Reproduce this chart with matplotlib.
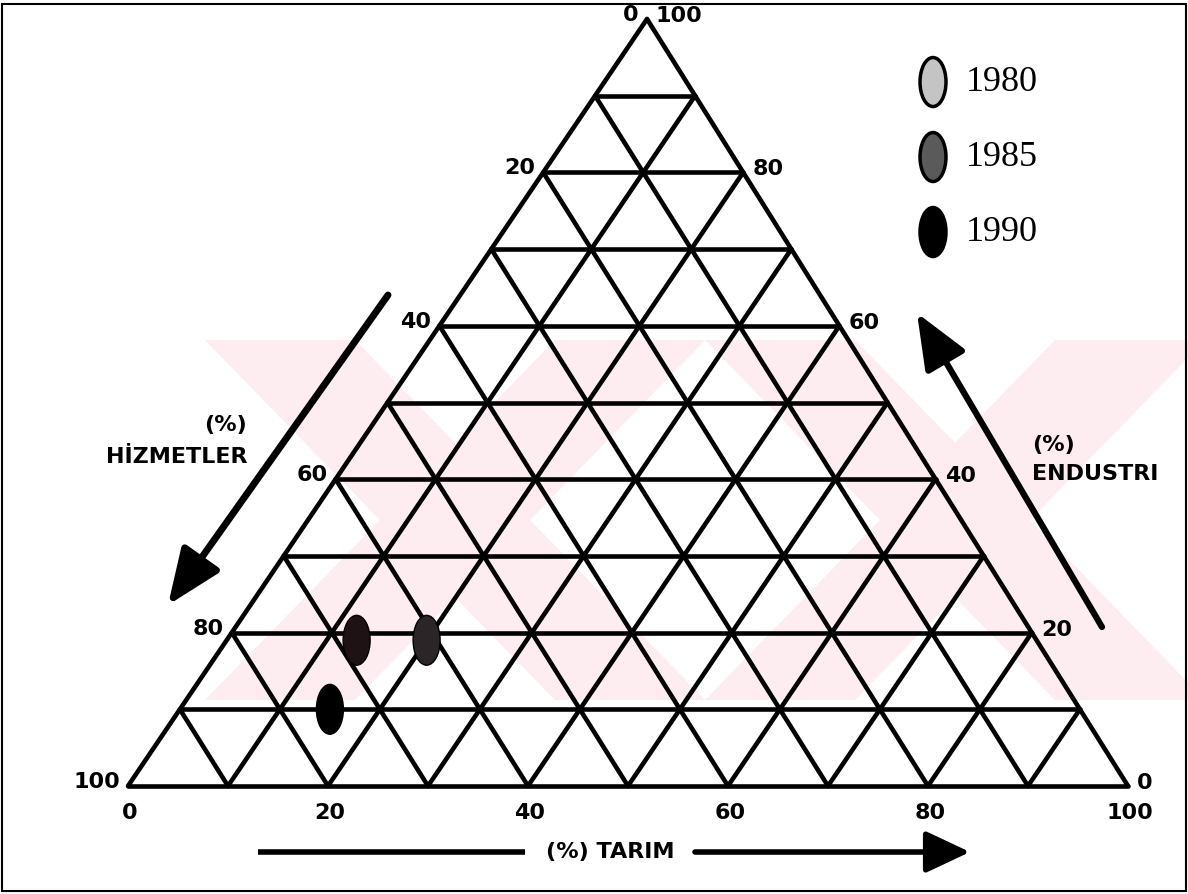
import numpy as np
import matplotlib.pyplot as plt
from matplotlib.patches import Ellipse, Polygon, Rectangle

# yuzde degerleri (tarim, endustri, hizmetler)
years = ['1980', '1985', '1990']
tarim = [20, 13, 15]
endustri = [19, 19, 10]
hizmetler = [61, 68, 75]

tick_values = [0, 20, 40, 60, 80, 100]
grid_steps = list(range(0, 101, 10))

point_colors = ['#2b2527', '#1e1214', '#000000']
legend_colors = ['#c4c4c4', '#5a5a5a', '#000000']

APEX_X = 0.519   # tepe noktasi tam ortada degil


def to_xy(t, i):
    t = np.asarray(t, dtype=float) / 100.0
    i = np.asarray(i, dtype=float) / 100.0
    return t + APEX_X * i, i


def px(x, y):
    # figur pikselinden eksen koordinatina (sadece susleme icin)
    return (x - 128) / 1000.0, (786 - y) / 767.0


fig = plt.figure(figsize=(11.88, 8.94), dpi=100)
ax = fig.add_axes([0, 0, 1, 1])
ax.set_xlim(-0.128, 1.060)
ax.set_ylim(-0.1408, 1.0248)
ax.axis('off')

# soluk pembe filigran
wm = '#fdedf0'
for cx in [455, 955]:
    w = 150
    arm1 = [px(cx - 250, 340), px(cx - 250 + w, 340), px(cx + 250, 700), px(cx + 250 - w, 700)]
    arm2 = [px(cx + 250 - w, 340), px(cx + 250, 340), px(cx - 250 + w, 700), px(cx - 250, 700)]
    for arm in (arm1, arm2):
        ax.add_patch(Polygon(arm, closed=True, facecolor=wm, edgecolor='none', zorder=0))

# ucgen izgara
lw = 3.3
for k in grid_steps:
    if k == 100:
        continue
    x0, y0 = to_xy(0, k)
    x1, y1 = to_xy(100 - k, k)
    ax.plot([x0, x1], [y0, y1], color='black', lw=lw, solid_capstyle='round', zorder=2)
    x0, y0 = to_xy(k, 0)
    x1, y1 = to_xy(k, 100 - k)
    ax.plot([x0, x1], [y0, y1], color='black', lw=lw, solid_capstyle='round', zorder=2)
    x0, y0 = to_xy(100 - k, 0)
    x1, y1 = to_xy(0, 100 - k)
    ax.plot([x0, x1], [y0, y1], color='black', lw=lw, solid_capstyle='round', zorder=2)

lab = dict(fontsize=16, family='DejaVu Sans', fontweight='bold', color='black')

# sol eksen: hizmetler
for v in tick_values:
    x, y = to_xy(0, 100 - v)
    ax.annotate(str(v), (x, y), xytext=(-8, 4), textcoords='offset pixels',
                ha='right', va='center', **lab)
# sag eksen: endustri
for v in tick_values:
    x, y = to_xy(100 - v, v)
    ax.annotate(str(v), (x, y), xytext=(9, 3), textcoords='offset pixels',
                ha='left', va='center', **lab)
# alt eksen: tarim
for v in tick_values:
    x, y = to_xy(v, 0)
    ax.annotate(str(v), (x, y), xytext=(2, -27), textcoords='offset pixels',
                ha='center', va='center', **lab)

# veri noktalari
for yr, t, i, c in zip(years, tarim, endustri, point_colors):
    x, y = to_xy(t, i)
    ax.add_patch(Ellipse((x, y), 0.027, 0.065, facecolor=c, edgecolor='black',
                         lw=1, zorder=4))

# eksen oklari
ax.annotate('', xy=px(168, 605), xytext=px(388, 295),
            arrowprops=dict(arrowstyle='-|>,head_length=0.85,head_width=0.35',
                            lw=5, color='black', mutation_scale=40,
                            shrinkA=0, shrinkB=0))
ax.annotate('', xy=px(917, 313), xytext=px(1102, 627),
            arrowprops=dict(arrowstyle='-|>,head_length=0.85,head_width=0.35',
                            lw=4.5, color='black', mutation_scale=40,
                            shrinkA=0, shrinkB=0))
ax.plot(*zip(px(258, 852), px(525, 852)), color='black', lw=4, solid_capstyle='butt')
ax.annotate('', xy=px(970, 852), xytext=px(695, 852),
            arrowprops=dict(arrowstyle='-|>,head_length=0.85,head_width=0.4',
                            lw=4, color='black', mutation_scale=32,
                            shrinkA=0, shrinkB=0))

ax.text(*px(247, 425), '(%)', ha='right', va='center', **lab)
ax.text(*px(248, 457), 'HİZMETLER', ha='right', va='center', **lab)
ax.text(*px(1032, 445), '(%)', ha='left', va='center', **lab)
ax.text(*px(1032, 474), 'ENDUSTRI', ha='left', va='center', **lab)
ax.text(*px(610, 852), '(%) TARIM', ha='center', va='center', **lab)

# lejant
for k, (yr, c) in enumerate(zip(years, legend_colors)):
    cy = 82 + k * 75
    ax.add_patch(Ellipse(px(933, cy), 0.026, 49 / 767.0, facecolor=c,
                         edgecolor='black', lw=2.5, zorder=4))
    ax.text(*px(966, cy), yr, ha='left', va='center', fontsize=26,
            family='Liberation Serif')

# cerceve
fig.patches.append(Rectangle((2 / 1188, 3 / 894), 1184 / 1188, 887 / 894,
                             transform=fig.transFigure, fill=False,
                             edgecolor='black', lw=1.5))

fig.savefig('out.png', dpi=100)
